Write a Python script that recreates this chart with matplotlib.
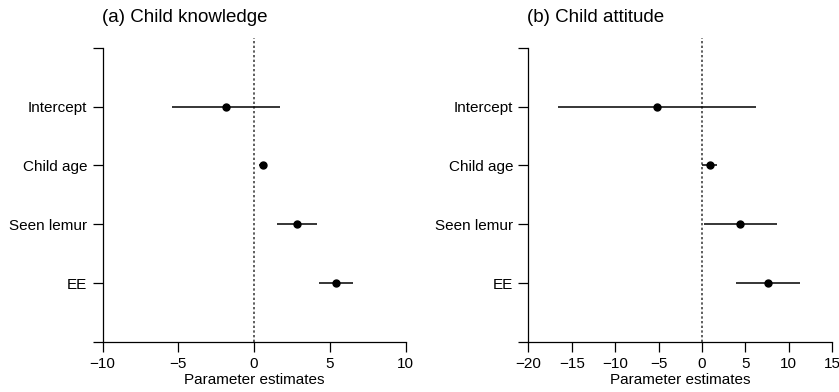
import matplotlib.pyplot as plt

plt.rcParams['font.family'] = ['Liberation Sans', 'DejaVu Sans']

labels = ["EE", "Seen lemur", "Child age", "Intercept"]
ypos = [1, 2, 3, 4]

# (a) Child knowledge
know_est = [5.4, 2.8, 0.56, -1.86]
know_lo = [4.26, 1.49, 0.34, -5.4]
know_hi = [6.54, 4.12, 0.82, 1.72]

# (b) Child attitude
att_est = [7.56, 4.42, 0.89, -5.22]
att_lo = [3.88, 0.2, 0.05, -16.6]
att_hi = [11.25, 8.68, 1.77, 6.26]

W, H = 839, 392
fig = plt.figure(figsize=(W / 100, H / 100), dpi=100)


def panel(rect, est, lo, hi, xlim, xticks, title):
    ax = fig.add_axes(rect)
    ax.axvline(0, color="#444444", lw=1.2, ls=(0, (1.4, 1.4)), zorder=1)
    ax.hlines(ypos, lo, hi, color="black", lw=1.1, zorder=2)
    ax.plot(est, ypos, "o", color="black", ms=5, zorder=3)
    ax.set_xlim(xlim)
    ax.set_ylim(0, 5.165)
    ax.set_yticks([0] + ypos + [5])
    ax.set_yticklabels([""] + labels + [""])
    ax.set_xticks(xticks)
    ax.set_xticklabels([str(t).replace("-", "\u2212") for t in xticks])
    ax.spines["top"].set_visible(False)
    ax.spines["right"].set_visible(False)
    ax.spines["left"].set_bounds(0, 5)
    for s in ("left", "bottom"):
        ax.spines[s].set_linewidth(0.9)
    ax.tick_params(labelsize=11, length=7, width=0.9, pad=4)
    ax.set_xlabel("Parameter estimates", fontsize=11, labelpad=1)
    fig.text(rect[0] - 0.001, 1 - 17 / H, title, fontsize=13.5, va="center", ha="left")
    return ax


panel([102.6 / W, 50 / H, 303 / W, 304 / H], know_est, know_lo, know_hi,
      (-10, 10), [-10, -5, 0, 5, 10], "(a) Child knowledge")
panel([528.3 / W, 50 / H, 304 / W, 304 / H], att_est, att_lo, att_hi,
      (-20, 15), [-20, -15, -10, -5, 0, 5, 10, 15], "(b) Child attitude")

fig.savefig("out.png", dpi=100)
